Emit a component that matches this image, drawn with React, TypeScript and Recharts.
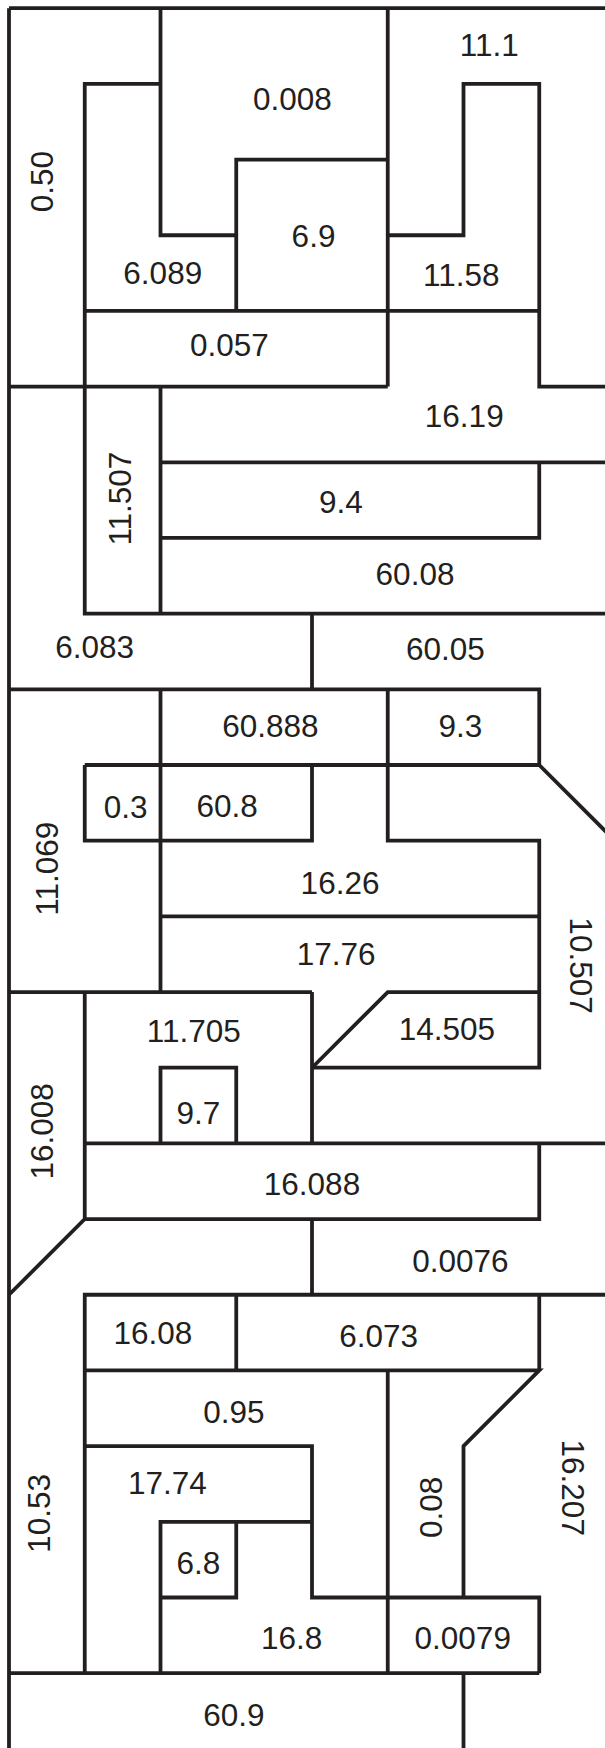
import React from "react";
import { ComposedChart, Scatter, XAxis, YAxis } from "recharts";

// floor plan on a unit grid: x = column, y = row (row 0 at the top)
const walls: [number, number][][] = [
  [[0, 0], [8, 0]],
  [[0, 0], [0, 23]],
  [[2, 1], [1, 1], [1, 8], [8, 8]],
  [[2, 0], [2, 3], [3, 3]],
  [[3, 4], [3, 2], [5, 2]],
  [[5, 0], [5, 5]],
  [[5, 3], [6, 3], [6, 1], [7, 1], [7, 5], [8, 5]],
  [[1, 4], [7, 4]],
  [[0, 5], [5, 5]],
  [[2, 5], [2, 8]],
  [[2, 6], [8, 6]],
  [[2, 7], [7, 7], [7, 6]],
  [[4, 8], [4, 9]],
  [[0, 9], [7, 9], [7, 10], [8, 11]],
  [[1, 10], [7, 10]],
  [[1, 10], [1, 11], [4, 11], [4, 10]],
  [[2, 9], [2, 13]],
  [[5, 9], [5, 11], [7, 11], [7, 14], [4, 14]],
  [[2, 12], [7, 12]],
  [[0, 13], [4, 13]],
  [[7, 13], [5, 13], [4, 14]],
  [[4, 13], [4, 15]],
  [[2, 15], [2, 14], [3, 14], [3, 15]],
  [[1, 13], [1, 16], [0, 17]],
  [[1, 15], [8, 15]],
  [[1, 16], [7, 16], [7, 15]],
  [[4, 16], [4, 17]],
  [[1, 22], [1, 17], [8, 17]],
  [[7, 17], [7, 18]],
  [[1, 18], [7, 18], [6, 19], [6, 21]],
  [[3, 17], [3, 18]],
  [[5, 18], [5, 22]],
  [[1, 19], [4, 19], [4, 21], [7, 21], [7, 22]],
  [[4, 20], [2, 20], [2, 22]],
  [[3, 20], [3, 21], [2, 21]],
  [[0, 22], [7, 22]],
  [[6, 22], [6, 23]],
];

// room labels; turn -90 reads bottom-to-top, 90 reads top-to-bottom
const labels = [
  { text: "0.50", x: 0.44, y: 2.29, turn: -90 },
  { text: "0.008", x: 3.74, y: 1.2, turn: 0 },
  { text: "11.1", x: 6.34, y: 0.49, turn: 0 },
  { text: "6.9", x: 4.02, y: 3.01, turn: 0 },
  { text: "6.089", x: 2.03, y: 3.5, turn: 0 },
  { text: "11.58", x: 5.97, y: 3.52, turn: 0 },
  { text: "0.057", x: 2.91, y: 4.45, turn: 0 },
  { text: "16.19", x: 6.01, y: 5.39, turn: 0 },
  { text: "11.507", x: 1.47, y: 6.48, turn: -90 },
  { text: "9.4", x: 4.38, y: 6.52, turn: 0 },
  { text: "60.08", x: 5.36, y: 7.47, turn: 0 },
  { text: "6.083", x: 1.13, y: 8.44, turn: 0 },
  { text: "60.05", x: 5.76, y: 8.47, turn: 0 },
  { text: "60.888", x: 3.45, y: 9.48, turn: 0 },
  { text: "9.3", x: 5.96, y: 9.48, turn: 0 },
  { text: "0.3", x: 1.54, y: 10.56, turn: 0 },
  { text: "60.8", x: 2.88, y: 10.54, turn: 0 },
  { text: "11.069", x: 0.5, y: 11.37, turn: -90 },
  { text: "16.26", x: 4.37, y: 11.56, turn: 0 },
  { text: "17.76", x: 4.32, y: 12.5, turn: 0 },
  { text: "10.507", x: 7.55, y: 12.65, turn: 90 },
  { text: "11.705", x: 2.44, y: 13.52, turn: 0 },
  { text: "14.505", x: 5.78, y: 13.49, turn: 0 },
  { text: "9.7", x: 2.5, y: 14.6, turn: 0 },
  { text: "16.008", x: 0.44, y: 14.84, turn: -90 },
  { text: "16.088", x: 4.0, y: 15.54, turn: 0 },
  { text: "0.0076", x: 5.96, y: 16.56, turn: 0 },
  { text: "16.08", x: 1.9, y: 17.51, turn: 0 },
  { text: "6.073", x: 4.88, y: 17.55, turn: 0 },
  { text: "0.95", x: 2.97, y: 18.55, turn: 0 },
  { text: "10.53", x: 0.39, y: 19.89, turn: -90 },
  { text: "17.74", x: 2.09, y: 19.49, turn: 0 },
  { text: "0.08", x: 5.57, y: 19.81, turn: -90 },
  { text: "16.207", x: 7.45, y: 19.55, turn: 90 },
  { text: "6.8", x: 2.5, y: 20.55, turn: 0 },
  { text: "16.8", x: 3.73, y: 21.54, turn: 0 },
  { text: "0.0079", x: 5.99, y: 21.54, turn: 0 },
  { text: "60.9", x: 2.97, y: 22.55, turn: 0 },
];

const INK = "#231f20";
const WIDTH = 605;
const HEIGHT = 1748;
// grid unit ~75.7px, grid origin at ~(9, 8.2)
const X_DOMAIN: [number, number] = [-9 / 75.75, (WIDTH - 9) / 75.75];
const Y_DOMAIN: [number, number] = [-8.2 / 75.68, (HEIGHT - 8.2) / 75.68];

const noDot = () => <g />;

const LabelMark = (props: any) => {
  const { cx, cy, payload } = props;
  return (
    <text
      x={cx}
      y={cy}
      textAnchor="middle"
      dominantBaseline="central"
      transform={payload.turn ? `rotate(${payload.turn} ${cx} ${cy})` : undefined}
      fontSize={31.5}
      fill={INK}
      fontFamily="'Liberation Sans', Arial, sans-serif"
    >
      {payload.text}
    </text>
  );
};

export default function App() {
  return (
    <div style={{ position: "absolute", left: 0, top: 0, width: WIDTH, height: HEIGHT, background: "#fff" }}>
      <ComposedChart width={WIDTH} height={HEIGHT} margin={{ top: 0, right: 0, bottom: 0, left: 0 }}>
        <XAxis type="number" dataKey="x" domain={X_DOMAIN} hide allowDataOverflow />
        <YAxis type="number" dataKey="y" domain={Y_DOMAIN} reversed hide allowDataOverflow />
        {walls.map((w, i) => (
          <Scatter
            key={`wall-${i}`}
            data={w.map(([x, y]) => ({ x, y }))}
            line={{ stroke: INK, strokeWidth: 3.8, strokeLinejoin: "miter" }}
            shape={noDot}
            isAnimationActive={false}
          />
        ))}
        <Scatter data={labels} shape={LabelMark} isAnimationActive={false} />
      </ComposedChart>
    </div>
  );
}
